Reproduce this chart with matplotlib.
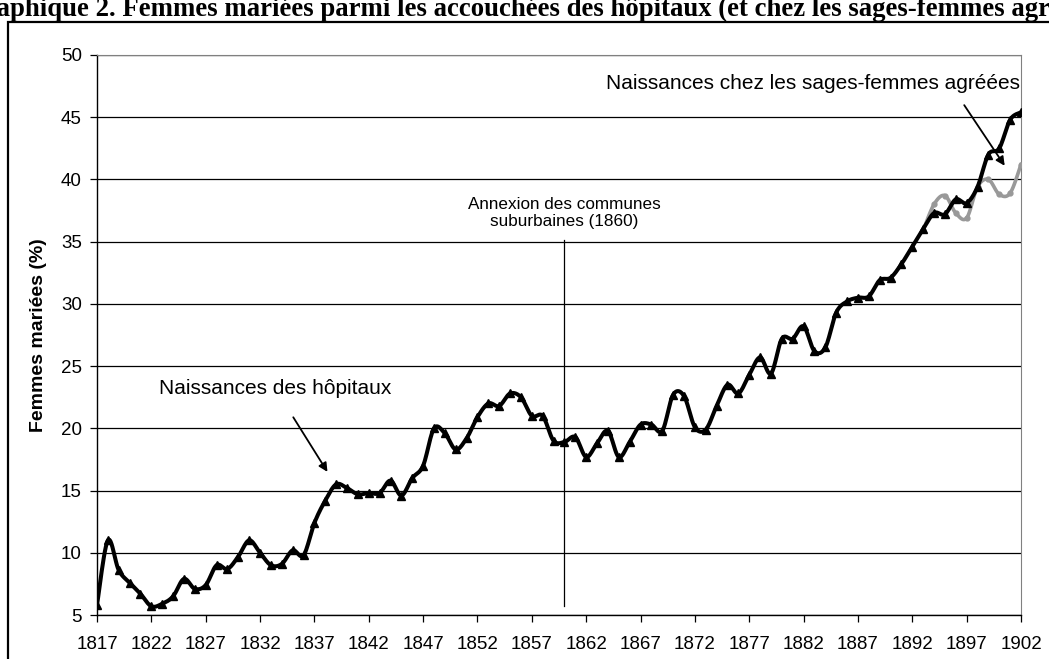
import numpy as np
import matplotlib.pyplot as plt
from matplotlib.patches import Rectangle

years = list(range(1817, 1903))
hopitaux = [5.8, 11.0, 8.6, 7.6, 6.7, 5.7, 5.9, 6.5, 7.9, 7.1,
            7.4, 9.0, 8.7, 9.7, 11.0, 10.0, 9.0, 9.1, 10.2, 9.8,
            12.4, 14.2, 15.5, 15.2, 14.7, 14.8, 14.8, 15.8, 14.6, 16.0,
            17.0, 20.0, 19.6, 18.3, 19.2, 20.9, 22.0, 21.8, 22.8, 22.5,
            21.0, 21.0, 19.0, 18.9, 19.3, 17.7, 18.8, 19.8, 17.7, 18.9,
            20.3, 20.3, 19.8, 22.7, 22.6, 20.1, 19.9, 21.8, 23.5, 22.8,
            24.3, 25.7, 24.4, 27.2, 27.2, 28.2, 26.2, 26.5, 29.3, 30.2,
            30.5, 30.6, 31.9, 32.1, 33.2, 34.6, 36.0, 37.3, 37.2, 38.4,
            38.1, 39.4, 42.0, 42.5, 44.8, 45.4]
sf_years = list(range(1893, 1903))
sages_femmes = [35.9, 38.0, 38.7, 37.3, 36.9, 39.4, 40.0, 38.8, 38.9, 41.2]

title = "Graphique 2. Femmes mariées parmi les accouchées des hôpitaux (et chez les sages-femmes agréées)"


def smooth(x, y, n=12):
    # Catmull-Rom curve through the points, like Excel's smoothed line
    x = np.asarray(x, float)
    y = np.asarray(y, float)
    px = np.concatenate([[x[0]], x, [x[-1]]])
    py = np.concatenate([[y[0]], y, [y[-1]]])
    t = np.linspace(0, 1, n, endpoint=False)
    xs, ys = [], []
    for i in range(1, len(px) - 2):
        for p, out in ((px, xs), (py, ys)):
            p0, p1, p2, p3 = p[i - 1], p[i], p[i + 1], p[i + 2]
            out.extend(0.5 * (2 * p1 + (-p0 + p2) * t
                              + (2 * p0 - 5 * p1 + 4 * p2 - p3) * t ** 2
                              + (-p0 + 3 * p1 - 3 * p2 + p3) * t ** 3))
    xs.append(x[-1])
    ys.append(y[-1])
    return xs, ys


plt.rcParams['font.family'] = ['Liberation Sans', 'DejaVu Sans']

fig = plt.figure(figsize=(10.49, 6.59), dpi=100)
ax = fig.add_axes([97 / 1049, 1 - 615 / 659, (1021 - 97) / 1049, (615 - 55) / 659])

# outer frame of the chart object
fig.patches.append(Rectangle((8 / 1049, -0.1), 1.2, 1 - 22 / 659 + 0.1,
                             transform=fig.transFigure, fill=False,
                             edgecolor='black', linewidth=1.6))
# the title is cropped at the page edges in the original
fig.text(-0.034, 1 - 16 / 659, title, fontsize=19.3, fontweight='bold',
         family='Liberation Serif', ha='left', va='baseline')

sx, sy = smooth(years, hopitaux)
ax.plot(sx, sy, color='black', linewidth=2.9, zorder=4, solid_capstyle='round')
ax.plot(years, hopitaux, linestyle='none', marker='^', markersize=5.5,
        color='black', zorder=5)

gx, gy = smooth(sf_years, sages_femmes)
ax.plot(gx, gy, color='#999999', linewidth=2.6, zorder=3)
ax.plot(sf_years, sages_femmes, linestyle='none', marker='o', markersize=3.5,
        color='#999999', zorder=3)

ax.set_xlim(1817, 1902)
ax.set_ylim(5, 50)
ax.set_yticks(range(5, 51, 5))
ax.set_xticks(range(1817, 1903, 5))
ax.yaxis.grid(True, color='black', linewidth=0.9)
ax.set_axisbelow(True)
ax.tick_params(axis='both', direction='out', length=5, width=0.9,
               labelsize=13.5, colors='black')
ax.tick_params(axis='x', pad=10)
ax.tick_params(axis='y', pad=6)
ax.spines['top'].set_color('#808080')
ax.spines['right'].set_color('#808080')
for s in ('left', 'bottom'):
    ax.spines[s].set_linewidth(1.0)
ax.set_ylabel("Femmes mariées (%)", fontsize=14, fontweight='bold', labelpad=10)

# 1860 annexation marker
ax.plot([1860, 1860], [5.7, 35.1], color='black', linewidth=0.9, zorder=2)
ax.text(1860, 37.3, "Annexion des communes\nsuburbaines (1860)", fontsize=12.3,
        ha='center', va='center', linespacing=1.2)

ax.annotate("Naissances des hôpitaux", xy=(1838.2, 16.5), xytext=(1833.4, 23.2),
            fontsize=15, ha='center', va='center',
            arrowprops=dict(arrowstyle='-|>', color='black', lw=1.3,
                            shrinkA=14, shrinkB=0, mutation_scale=13))
ax.annotate("Naissances chez les sages-femmes agréées", xy=(1900.5, 41.1),
            xytext=(1882.9, 47.7), fontsize=15, ha='center', va='center',
            arrowprops=dict(arrowstyle='-|>', color='black', lw=1.3,
                            shrinkA=8, shrinkB=0, mutation_scale=13,
                            relpos=(0.845, 0.0)))

fig.savefig("out.png", dpi=100)
